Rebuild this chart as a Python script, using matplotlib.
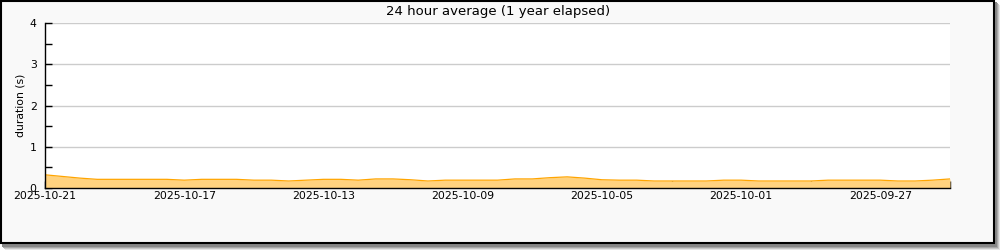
import numpy as np
import pandas as pd
from matplotlib import pyplot as plt
from matplotlib.patches import Rectangle
import matplotlib.dates as mdates

# half-day samples, newest first (2025-10-21 back to 2025-09-25)
times = pd.date_range(end="2025-10-21", periods=53, freq="12h")[::-1]
durations = [
    0.32, 0.28, 0.24, 0.21, 0.21, 0.21, 0.21, 0.21, 0.19, 0.21,
    0.21, 0.21, 0.19, 0.19, 0.17, 0.19, 0.21, 0.21, 0.19, 0.22,
    0.22, 0.20, 0.17, 0.19, 0.19, 0.19, 0.19, 0.22, 0.22, 0.25,
    0.27, 0.24, 0.20, 0.19, 0.19, 0.17, 0.17, 0.17, 0.17, 0.19,
    0.19, 0.17, 0.17, 0.17, 0.17, 0.19, 0.19, 0.19, 0.19, 0.17,
    0.17, 0.19, 0.22,
]
y_ticks = [0, 1, 2, 3, 4]
title = "24 hour average (1 year elapsed)"
y_label = "duration (s)"

start = pd.Timestamp("2025-10-21")
end = pd.Timestamp("2025-09-25")
major_dates = pd.date_range(end=start, start=end + pd.Timedelta(days=2), freq="4D")
minor_dates = pd.date_range(end=start, start=end, freq="2D")

fig = plt.figure(figsize=(10, 2.5), dpi=100)
fig.patch.set_facecolor("white")

# frame with soft drop shadow
for off, col in [(6, "#e6e6e6"), (5, "#c8c8c8"), (4, "#a8a8a8"), (3, "#888888")]:
    fig.patches.append(Rectangle(((off - 1) / 1000, (6 - off) / 250), 995 / 1000, 245 / 250,
                                 transform=fig.transFigure, facecolor=col, edgecolor="none", zorder=-3))
fig.patches.append(Rectangle((0.5 / 1000, 7 / 250), 993.5 / 1000, 242.5 / 250, transform=fig.transFigure,
                             facecolor="#f9f9f9", edgecolor="black", linewidth=1.5, zorder=-2))

ax = fig.add_axes([45 / 1000, 62 / 250, 905 / 1000, 165 / 250])
ax.set_facecolor("white")

x = mdates.date2num(times)
ax.fill_between(x, 0, durations, color="#ffd27f", linewidth=0, zorder=2)
ax.plot(x, durations, color="#ffa500", linewidth=0.9, zorder=3)

ax.set_xlim(mdates.date2num(start), mdates.date2num(end))
ax.set_ylim(0, 4)

ax.set_yticks(y_ticks)
ax.set_yticks(np.arange(0.5, 4, 1), minor=True)
ax.set_xticks(mdates.date2num(major_dates))
ax.set_xticklabels([d.strftime("%Y-%m-%d") for d in major_dates])
ax.set_xticks(mdates.date2num(minor_dates), minor=True)

ax.tick_params(axis="both", which="both", direction="in", length=5, width=1,
               labelsize=7.8, colors="black")
ax.tick_params(axis="y", which="both", pad=6)
ax.tick_params(axis="x", which="both", pad=2)
ax.grid(axis="y", which="major", color="#cccccc", linewidth=1, zorder=0)
ax.set_axisbelow(True)

for side in ["top", "right"]:
    ax.spines[side].set_visible(False)
for side in ["left", "bottom"]:
    ax.spines[side].set_linewidth(1)
    ax.spines[side].set_zorder(5)

ax.set_ylabel(y_label, fontsize=7.8, labelpad=3)
fig.text(498 / 1000, 1 - 11 / 250, title, ha="center", va="center", fontsize=9.5)

fig.savefig("out.png", dpi=100)
